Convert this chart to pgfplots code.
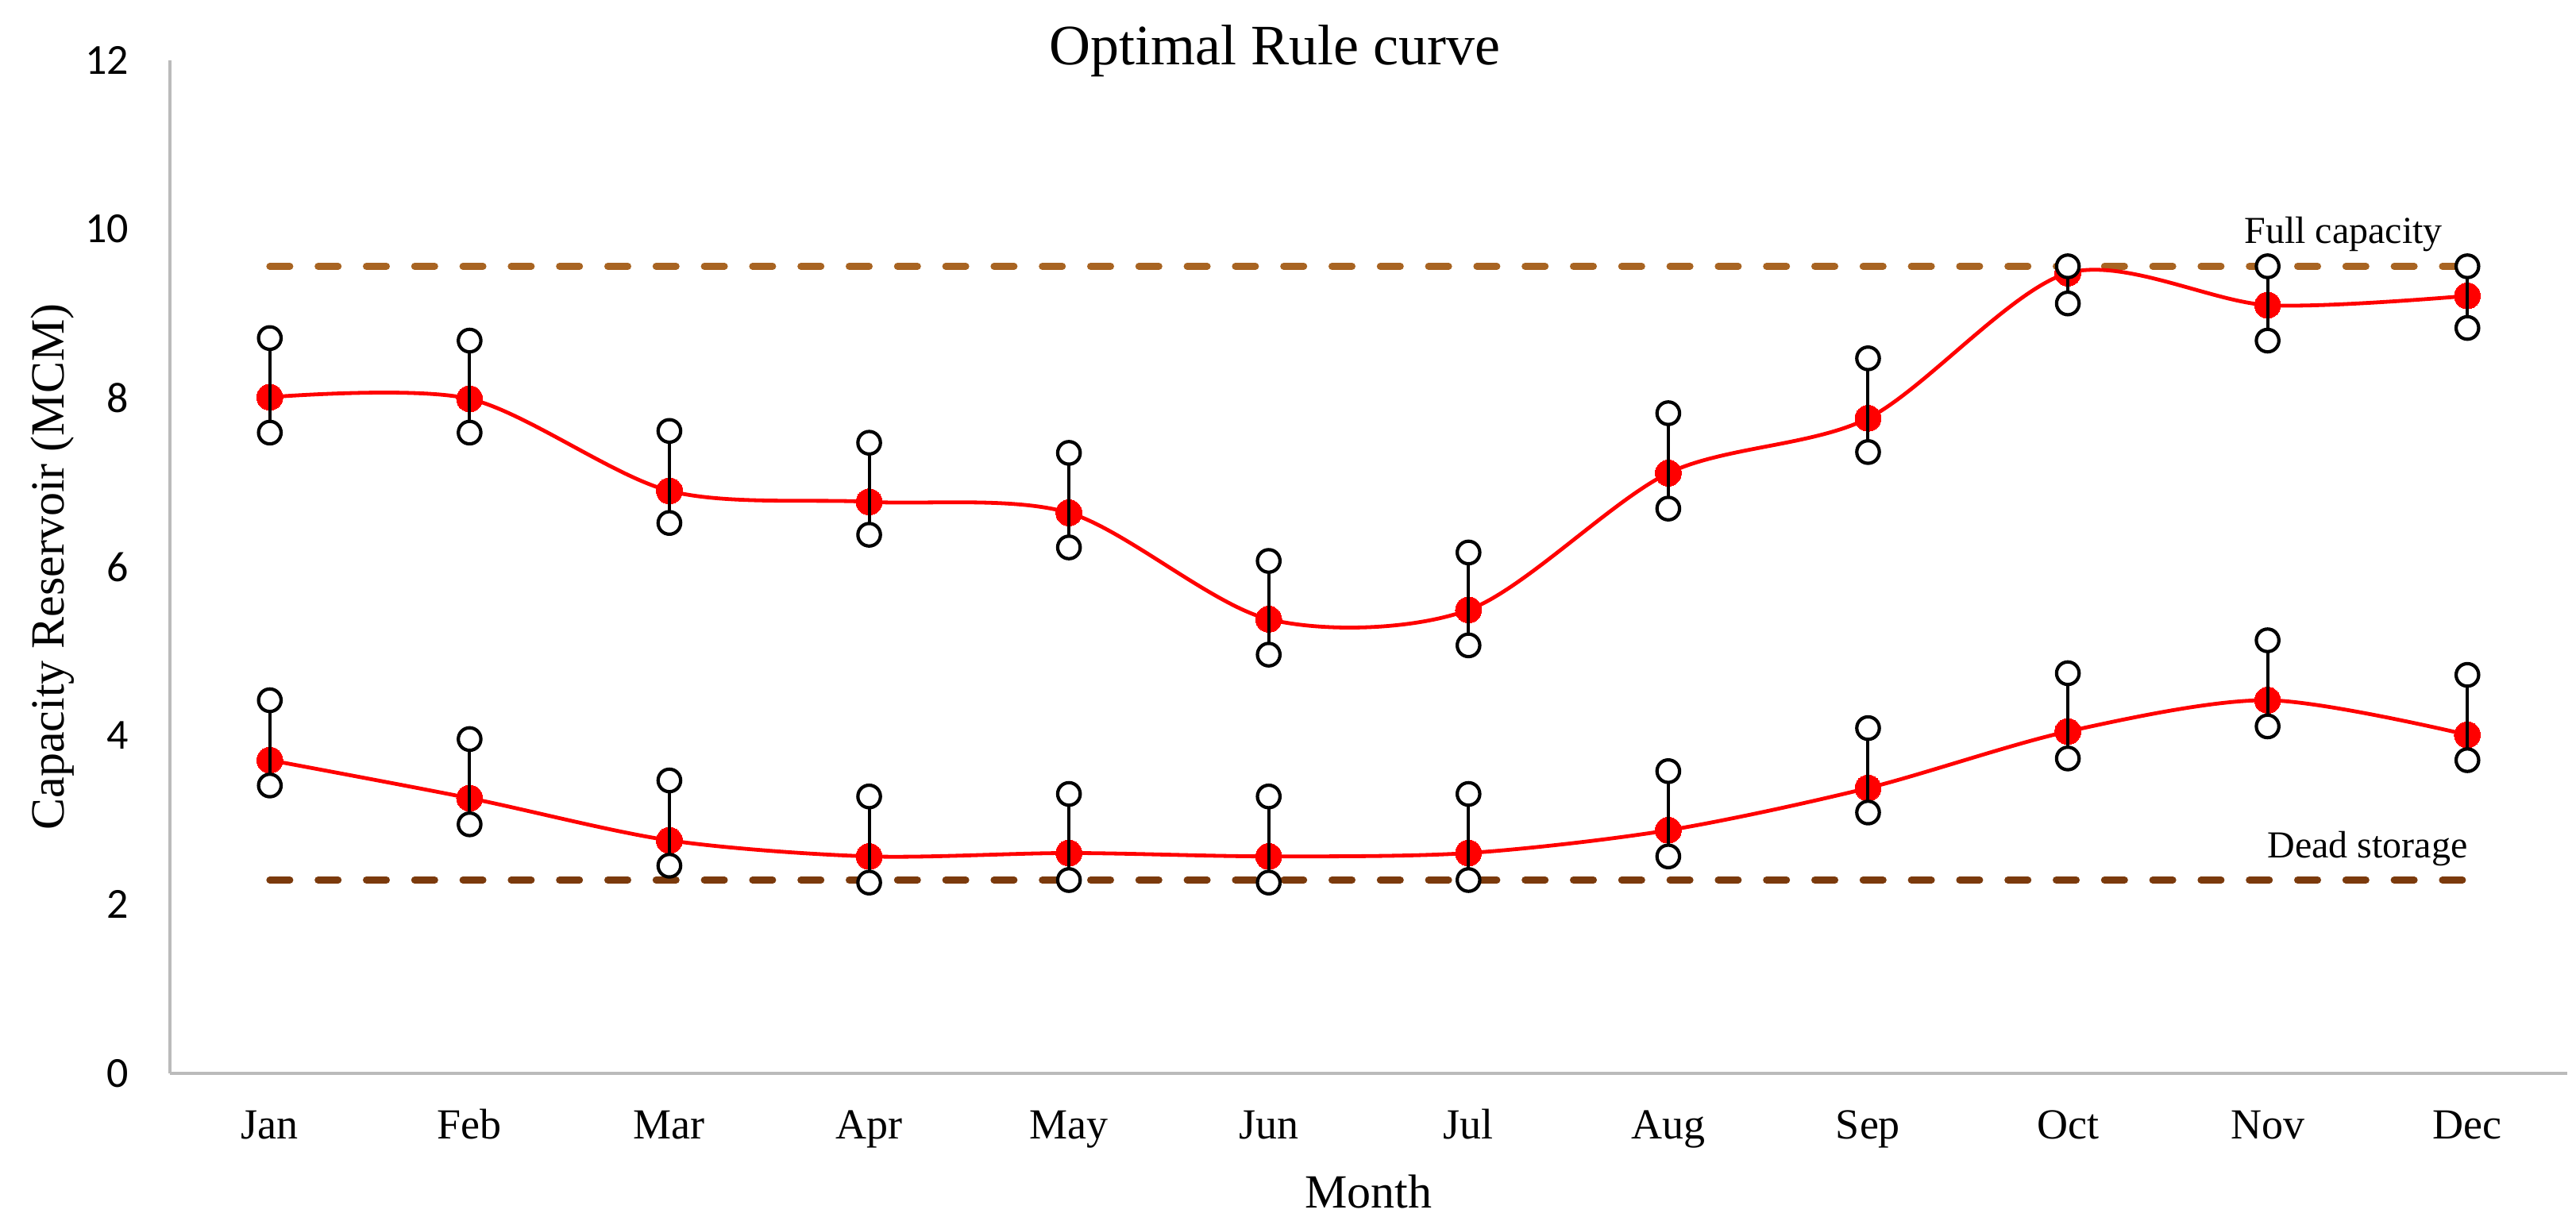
\documentclass[border=0pt]{standalone}
\usepackage{fontspec}
\setmainfont{Liberation Serif}
\newfontfamily\calibri{Carlito}
\usepackage{pgfplots}
\usepackage{pgfplotstable}
\pgfplotsset{compat=1.18}

\definecolor{fullcap}{HTML}{A86422}
\definecolor{deadst}{HTML}{7B3A0C}
\definecolor{axgray}{HTML}{BBBBBB}

% upper rule curve: optimum, upper and lower bound
\pgfplotstableread{
x mid hi lo
0 8.01 8.71 7.59
1 7.99 8.68 7.59
2 6.90 7.61 6.52
3 6.77 7.47 6.38
4 6.64 7.35 6.23
5 5.38 6.07 4.96
6 5.49 6.17 5.07
7 7.11 7.82 6.69
8 7.76 8.47 7.36
9 9.48 9.56 9.12
10 9.10 9.56 8.68
11 9.21 9.56 8.83
}\uppercurve

% lower rule curve
\pgfplotstableread{
x mid hi lo
0 3.71 4.42 3.41
1 3.26 3.96 2.95
2 2.76 3.47 2.46
3 2.57 3.28 2.26
4 2.61 3.31 2.29
5 2.57 3.28 2.26
6 2.61 3.31 2.29
7 2.88 3.58 2.57
8 3.38 4.09 3.09
9 4.05 4.74 3.73
10 4.42 5.13 4.11
11 4.01 4.72 3.71
}\lowercurve

\pgfplotsset{
  rule/.style={red, line width=1.2pt, smooth, mark=*, mark size=4.1pt,
    mark options={fill=red, draw=red, line width=0pt}},
  bars/.style={no markers, draw=none, forget plot,
    error bars/.cd, y dir=both, y explicit, error mark=none,
    error bar style={draw=black, line width=1pt}},
  bound/.style={only marks, mark=*, mark size=3.55pt,
    mark options={fill=white, draw=black, line width=1.05pt}},
  level/.style={line width=2.2pt, line cap=round, dash pattern=on 6.3pt off 8.9pt, mark=none},
}

\begin{document}
\begin{tikzpicture}
\begin{axis}[
  name=ax,
  scale only axis,
  width=754.75pt, height=319pt,
  xmin=-0.5, xmax=11.5, ymin=0, ymax=12,
  axis lines*=left,
  axis line style={draw=axgray, line width=0.9pt},
  tick style={draw=none},
  major tick length=0pt,
  xtick={0,...,11},
  xticklabels={Jan,Feb,Mar,Apr,May,Jun,Jul,Aug,Sep,Oct,Nov,Dec},
  ytick={0,2,...,12},
  yticklabels={0,2,4,6,8,10,12},
  xticklabel style={font=\fontsize{13.5}{13.5}\selectfont, anchor=base, inner sep=0pt, yshift=-20.5pt},
  yticklabel style={font=\calibri\fontsize{13.5}{13.5}\selectfont, anchor=east, inner sep=0pt, xshift=-12.75pt},
  every axis title/.style={at={(axis description cs:0.461,1)}, anchor=base, yshift=-1.4pt,
    inner sep=0pt, font=\fontsize{18}{18}\selectfont},
  every axis x label/.style={at={(axis description cs:0.5,0)}, anchor=base, yshift=-42.3pt,
    inner sep=0pt, font=\fontsize{15}{15}\selectfont},
  every axis y label/.style={at={([xshift=-33.3pt]axis description cs:0,0.5)}, rotate=90,
    anchor=base, inner sep=0pt, font=\fontsize{15}{15}\selectfont},
  title={Optimal Rule curve},
  xlabel={Month},
  ylabel={Capacity Reservoir (MCM)},
  clip=false,
  clip marker paths=true,
]

% full capacity and dead storage levels
\addplot[level, fullcap] coordinates {(0,9.56) (11,9.56)};
\addplot[level, deadst] coordinates {(0,2.29) (11,2.29)};

% upper curve
\addplot[rule] table[x=x, y=mid] {\uppercurve};
\addplot[bars] table[x=x, y=mid, y error plus expr=\thisrow{hi}-\thisrow{mid},
  y error minus expr=\thisrow{mid}-\thisrow{lo}] {\uppercurve};
\addplot[bound] table[x=x, y=hi] {\uppercurve};
\addplot[bound] table[x=x, y=lo] {\uppercurve};

% lower curve
\addplot[rule] table[x=x, y=mid] {\lowercurve};
\addplot[bars] table[x=x, y=mid, y error plus expr=\thisrow{hi}-\thisrow{mid},
  y error minus expr=\thisrow{mid}-\thisrow{lo}] {\lowercurve};
\addplot[bound] table[x=x, y=hi] {\lowercurve};
\addplot[bound] table[x=x, y=lo] {\lowercurve};

\node[anchor=base, font=\fontsize{12}{12}\selectfont] at (axis cs:10.38,9.83) {Full capacity};
\node[anchor=base, font=\fontsize{12}{12}\selectfont] at (axis cs:10.5,2.55) {Dead storage};
\end{axis}
\pgfresetboundingbox
\path[use as bounding box] (-53.5pt,-47.5pt) rectangle (757.5pt,338pt);
\end{tikzpicture}
\end{document}
